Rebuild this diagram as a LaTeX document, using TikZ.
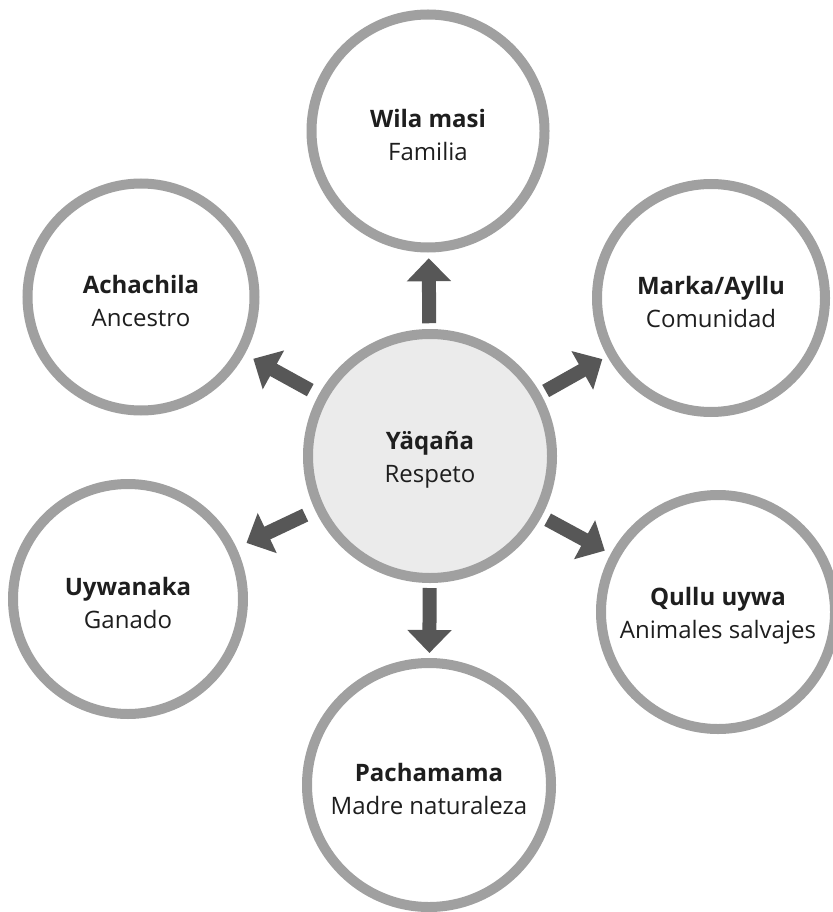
\documentclass[tikz,border=0pt]{standalone}
\usepackage{fontspec}
\setmainfont{Open Sans}
\usetikzlibrary{arrows.meta,calc}
\definecolor{ring}{HTML}{A0A0A0}
\definecolor{hub}{HTML}{EBEBEB}
\definecolor{arr}{HTML}{575757}
\definecolor{txt}{HTML}{1E1E1E}
\begin{document}
\begin{tikzpicture}[x=1pt,y=-1pt,
  bubble/.style={circle, draw=ring, line width=10pt, fill=white, inner sep=0pt,
    outer sep=5pt},
  hubnode/.style={bubble, fill=hub},
  lbl/.style={align=center, text=txt, inner sep=0pt, yshift=-4pt,
    font=\fontsize{24}{33}\selectfont},
  bigarrow/.style={draw=arr, line width=14pt, -{Triangle[width=43pt,length=23pt]}}
]
\useasboundingbox (0,0) rectangle (832,912);
\node[hubnode, minimum size=244pt] (c) at (430,456) {};
\node[bubble, minimum size=233pt] (w) at (428,131) {};
\node[bubble, minimum size=227pt] (a) at (141,297) {};
\node[bubble, minimum size=228pt] (m) at (711,298) {};
\node[bubble, minimum size=230pt] (u) at (128,599) {};
\node[bubble, minimum size=234pt] (q) at (718,612) {};
\node[bubble, minimum size=244pt] (p) at (429,785) {};
\node[lbl] (ct) at (c) {\textbf{Yäqaña}\\Respeto};
\node[lbl] (wt) at (w) {\textbf{Wila masi}\\Familia};
\node[lbl] (at) at (a) {\textbf{Achachila}\\Ancestro};
\node[lbl] (mt) at (m) {\textbf{Marka/Ayllu}\\Comunidad};
\node[lbl] (ut) at (u) {\textbf{Uywanaka}\\Ganado};
\node[lbl] (qt) at (q) {\textbf{Qullu uywa}\\Animales salvajes};
\node[lbl] (pt) at (p) {\textbf{Pachamama}\\Madre naturaleza};
\foreach \t in {w,a,m,u,q,p}{
  \path (c) -- coordinate[pos=0.5] (mid\t) (\t);
  \draw[bigarrow] ($(mid\t)!32.5pt!(c)$) -- ($(mid\t)!32.5pt!(\t)$);
}
\end{tikzpicture}
\end{document}
